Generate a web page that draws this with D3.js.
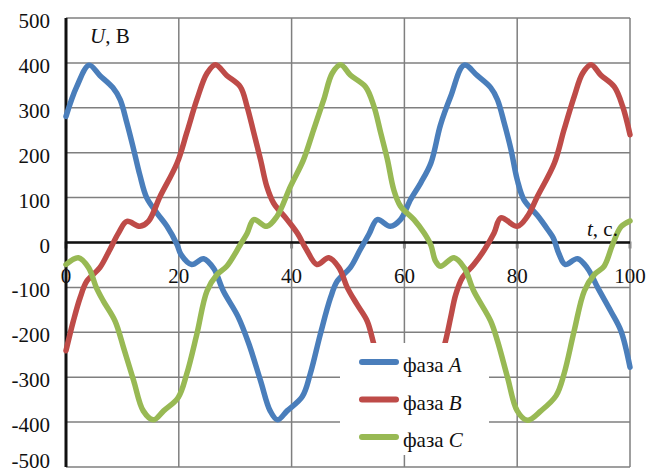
<!DOCTYPE html>
<html>
<head>
<meta charset="utf-8">
<script src="https://cdn.jsdelivr.net/npm/d3@7"></script>
<style>
  html, body { margin: 0; padding: 0; background: #fff; }
  svg { display: block; }
  text { font-family: "Liberation Serif", "Times New Roman", "DejaVu Serif", serif; }
</style>
</head>
<body>
<svg id="chart" width="649" height="474"></svg>
<script>
// time ticks and voltage ticks
const xTicks = [0, 20, 40, 60, 80, 100];
const yTicks = [500, 400, 300, 200, 100, 0, -100, -200, -300, -400, -500];

// series: [t, U]
const phaseA = [
  [0, 281], [1.9, 347], [4.1, 395], [6.0, 372], [8.3, 345], [9.6, 318], [10.8, 266],
  [12.0, 207], [13.1, 150], [14.3, 100], [16.1, 66], [17.9, 36], [19.7, -5], [20.4, -27],
  [22.3, -49], [24.4, -36], [26.2, -58], [27.9, -108], [30.5, -165], [32.4, -225],
  [34.5, -308], [36.2, -375], [37.5, -395], [39.2, -375], [41.9, -343], [43.3, -293],
  [45.1, -204], [46.9, -123], [48.1, -86], [50.4, -56], [52.2, -15], [53.7, 18],
  [55.2, 51], [57.5, 36], [59.3, 51], [61.1, 96], [62.9, 133], [64.7, 177], [66.4, 262],
  [68.2, 325], [70.6, 395], [72.9, 372], [75.3, 345], [76.5, 318], [77.7, 266],
  [78.9, 207], [80.0, 140], [81.2, 95], [83.6, 60], [85.4, 29], [86.4, 10], [87.4, -25],
  [88.5, -49], [90.7, -36], [92.5, -58], [94.3, -101], [96.6, -153], [98.4, -197], [100, -278]
];
const phaseB = [
  [0, -241], [1.3, -175], [2.5, -123], [3.7, -86], [6.0, -56], [7.6, -20], [9.3, 21],
  [10.8, 47], [13.1, 36], [14.6, 47], [16.7, 103], [19.7, 177], [21.4, 244], [23.2, 318],
  [25.0, 377], [26.5, 396], [28.5, 372], [30.9, 347], [32.1, 303], [33.3, 244],
  [34.5, 184], [35.6, 125], [36.8, 88], [39.2, 51], [41.0, 21], [42.6, -15], [44.5, -49],
  [46.6, -34], [48.4, -56], [49.9, -101], [51.6, -138], [53.4, -175], [54.6, -227],
  [56.4, -300], [58.1, -370], [59.8, -395], [61.5, -375], [64.2, -343], [65.6, -293],
  [67.3, -219], [68.2, -167], [69.1, -116], [70.3, -78], [72.3, -49], [74.1, -18],
  [75.9, 21], [77.1, 55], [80.0, 36], [81.8, 58], [83.6, 103], [86.6, 177], [88.3, 251],
  [90.1, 325], [91.6, 377], [93.1, 396], [94.8, 373], [97.2, 347], [98.7, 303], [100, 240]
];
const phaseC = [
  [0, -49], [2.2, -34], [4.0, -56], [5.4, -101], [6.6, -130], [8.7, -175], [10.2, -234],
  [12.0, -308], [13.7, -375], [15.5, -395], [17.3, -375], [19.9, -345], [21.4, -293],
  [23.2, -204], [25.0, -108], [26.8, -71], [28.5, -53], [30.9, -5], [32.1, 20], [33.3, 51],
  [35.6, 36], [37.4, 58], [39.8, 125], [42.1, 184], [43.9, 251], [45.7, 318], [47.2, 377],
  [48.7, 396], [50.4, 373], [53.1, 347], [54.6, 303], [55.8, 244], [57.0, 184], [58.1, 118],
  [59.3, 81], [61.7, 51], [63.5, 21], [64.7, -6], [65.5, -41], [66.4, -53], [68.8, -34],
  [70.6, -56], [72.3, -108], [75.3, -175], [76.5, -219], [78.3, -301], [80.0, -375],
  [81.8, -396], [84.2, -375], [86.9, -341], [88.3, -293], [90.1, -197], [91.9, -108],
  [93.7, -71], [95.4, -53], [96.9, -5], [98.4, 35], [100, 48]
];

const seriesNames = ["A", "B", "C"];
const seriesColors = ["#4a7ebb", "#be4b48", "#98b954"];
const serif = "Liberation Serif, Times New Roman, DejaVu Serif, serif";

const svg = d3.select("#chart");
const x = d3.scaleLinear().domain([0, 100]).range([66, 630]);
const y = d3.scaleLinear().domain([-500, 500]).range([467, 18]);

// grid
const grid = svg.append("g").attr("id", "grid").attr("stroke", "#7f7f7f").attr("stroke-width", 1.5);
grid.selectAll("line.h").data(yTicks).join("line").attr("class", "h")
  .attr("x1", x(0)).attr("x2", x(100)).attr("y1", d => y(d)).attr("y2", d => y(d));
grid.selectAll("line.v").data(xTicks.slice(1)).join("line").attr("class", "v")
  .attr("x1", d => x(d)).attr("x2", d => x(d)).attr("y1", y(500)).attr("y2", y(-500));

// small tick marks on the zero line
svg.append("g").attr("id", "ticks").selectAll("line").data(xTicks).join("line")
  .attr("x1", d => x(d)).attr("x2", d => x(d))
  .attr("y1", y(0) - 1).attr("y2", y(0) + 6)
  .attr("stroke", "#8a8a8a").attr("stroke-width", 3);

// zero line and vertical axis
svg.append("line").attr("x1", x(0)).attr("x2", x(100)).attr("y1", y(0)).attr("y2", y(0))
  .attr("stroke", "#111").attr("stroke-width", 2.5);
svg.append("line").attr("x1", x(0)).attr("x2", x(0)).attr("y1", y(500)).attr("y2", y(-500))
  .attr("stroke", "#111").attr("stroke-width", 3);

// tick labels (bottom one lifted a bit so it stays inside the picture)
svg.append("g").attr("id", "yLabels").selectAll("text").data(yTicks).join("text")
  .attr("x", 50).attr("y", d => Math.min(y(d) + 10, 468))
  .attr("text-anchor", "end").attr("font-family", serif).attr("font-size", 21).attr("fill", "#111")
  .text(d => d);
svg.append("g").attr("id", "xLabels").selectAll("text").data(xTicks).join("text")
  .attr("x", d => x(d)).attr("y", y(0) + 40)
  .attr("text-anchor", "middle").attr("font-family", serif).attr("font-size", 21).attr("fill", "#111")
  .text(d => d);

// curves
const line = d3.line().x(d => x(d[0])).y(d => y(d[1])).curve(d3.curveCatmullRom.alpha(0.5));
const curves = svg.append("g").attr("id", "curves");
[phaseA, phaseB, phaseC].forEach((s, i) => {
  curves.append("path").datum(s).attr("d", line)
    .attr("fill", "none").attr("stroke", seriesColors[i])
    .attr("stroke-width", 5.5).attr("stroke-linejoin", "round").attr("stroke-linecap", "round");
});

// axis titles
const uTitle = svg.append("text").attr("x", 90).attr("y", 43)
  .attr("font-family", serif).attr("font-size", 21).attr("fill", "#111");
uTitle.append("tspan").attr("font-style", "italic").text("U");
uTitle.append("tspan").text(", В");
const tTitle = svg.append("text").attr("x", 587).attr("y", 236)
  .attr("font-family", serif).attr("font-size", 21).attr("fill", "#111");
tTitle.append("tspan").attr("font-style", "italic").text("t");
tTitle.append("tspan").text(", с.");

// legend
const legend = svg.append("g").attr("id", "legend");
legend.append("rect").attr("x", 340).attr("y", 343).attr("width", 149).attr("height", 112).attr("fill", "#fff");
const rows = legend.selectAll("g").data(seriesNames).join("g")
  .attr("transform", (d, i) => `translate(0,${362 + i * 37.5})`);
rows.append("line").attr("x1", 362).attr("x2", 396).attr("y1", 0).attr("y2", 0)
  .attr("stroke", (d, i) => seriesColors[i]).attr("stroke-width", 6).attr("stroke-linecap", "round");
const lt = rows.append("text").attr("x", 403).attr("y", 10)
  .attr("font-family", serif).attr("font-size", 21).attr("fill", "#111");
lt.append("tspan").text("фаза ");
lt.append("tspan").attr("font-style", "italic").text(d => d);
</script>
</body>
</html>
